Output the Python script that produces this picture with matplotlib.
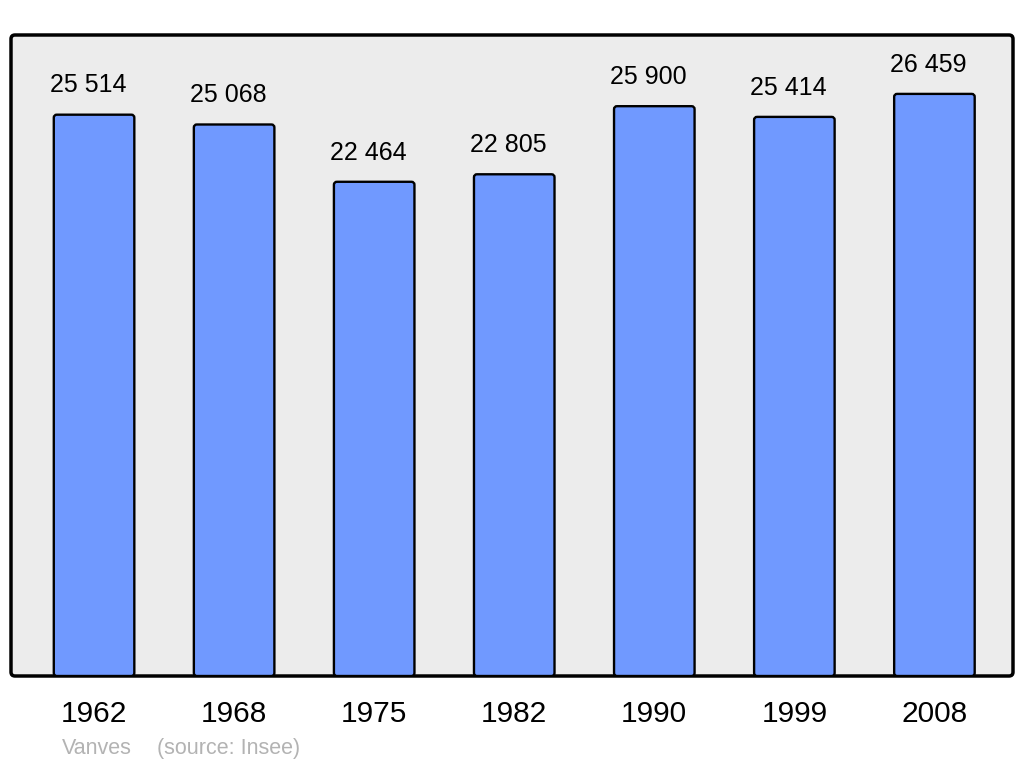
# Population de Vanves - histogramme
import matplotlib
matplotlib.use('Agg')
import matplotlib.pyplot as plt
from matplotlib.patches import FancyBboxPatch

plt.rcParams['font.family'] = ['Liberation Sans', 'DejaVu Sans']

# données
years = ['1962', '1968', '1975', '1982', '1990', '1999', '2008']
population = [25514, 25068, 22464, 22805, 25900, 25414, 26459]
labels = ['25 514', '25 068', '22 464', '22 805', '25 900', '25 414', '26 459']
commune = 'Vanves'
source = '(source: Insee)'

W, H = 1024, 765
fig = plt.figure(figsize=(W / 100, H / 100), dpi=100)
ax_l, ax_r, ax_t, ax_b = 11, 1013, 35, 676
ax = fig.add_axes([ax_l / W, (H - ax_b) / H, (ax_r - ax_l) / W, (ax_b - ax_t) / H])
ax.patch.set_visible(False)
for s in ax.spines.values():
    s.set_visible(False)

# cadre arrondi gris
pw, ph = ax_r - ax_l, ax_b - ax_t
frame = FancyBboxPatch((0, 0), 1, 1, boxstyle='round,pad=0,rounding_size=%f' % (4 / pw),
                       mutation_aspect=pw / ph, transform=ax.transAxes,
                       facecolor='#ececec', edgecolor='black', linewidth=2.5,
                       clip_on=False, zorder=0)
ax.add_patch(frame)

ax.set_xlim(-0.593, 6.561)
ax.set_ylim(0, 29136)

x = list(range(len(years)))
bars = ax.bar(x, population, width=0.575, color='none', edgecolor='none')

# barres aux coins arrondis (d'après la géométrie de ax.bar)
xl, yl = ax.get_xlim(), ax.get_ylim()
px_x = (xl[1] - xl[0]) / pw   # unités de données par pixel
px_y = (yl[1] - yl[0]) / ph
r = 3
for b in bars:
    p = FancyBboxPatch((b.get_x(), 0), b.get_width(), b.get_height(),
                       boxstyle='round,pad=0,rounding_size=%f' % (r * px_x),
                       mutation_aspect=px_y / px_x,
                       facecolor='#7099ff', edgecolor='black', linewidth=1.7, zorder=2)
    ax.add_patch(p)

for xi, v, lab in zip(x, population, labels):
    ax.annotate(lab, (xi, v), xytext=(-4.5, 16), textcoords='offset points',
                ha='center', va='baseline', fontsize=18)

ax.set_yticks([])
ax.set_xticks(x)
ax.set_xticklabels(years, fontsize=21.5)
ax.tick_params(axis='x', length=0, pad=17)

fig.text(62 / W, (H - 754) / H, commune, color='#b3b3b3', fontsize=15.5, va='baseline')
fig.text(157 / W, (H - 754) / H, source, color='#b3b3b3', fontsize=15.5, va='baseline')

fig.savefig('out.png', dpi=100)
